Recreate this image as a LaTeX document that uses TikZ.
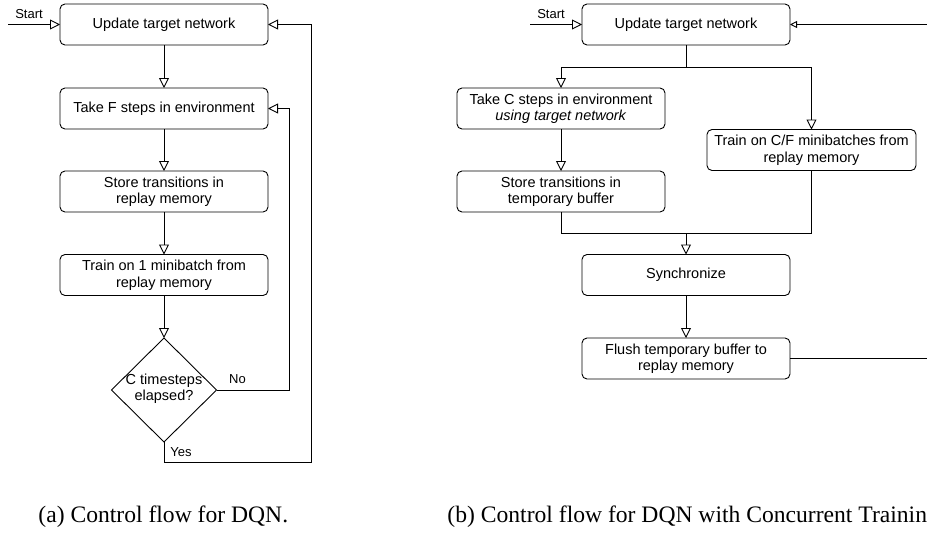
\documentclass[tikz,border=0pt]{standalone}
\usepackage{fontspec}
\setmainfont{Liberation Serif}
\setsansfont{Liberation Sans}
\usetikzlibrary{arrows.meta,shapes.geometric}
\begin{document}
\begin{tikzpicture}[x=1pt,y=-1pt,
  box/.style={draw, rounded corners=5pt, minimum width=208pt, minimum height=41pt, inner sep=0pt, outer sep=0pt, align=center, font=\sffamily\fontsize{14.5}{16.5}\selectfont},
  dia/.style={draw, diamond, minimum width=105pt, minimum height=104pt, inner sep=0pt, outer sep=0pt},
  txt/.style={align=center, inner sep=0pt, font=\sffamily\fontsize{14.5}{16.5}\selectfont},
  small/.style={inner sep=0pt, font=\sffamily\fontsize{13}{15}\selectfont},
  captxt/.style={inner sep=0pt, anchor=base west, font=\fontsize{23.6}{26}\selectfont},
  arr/.style={-{Triangle[open,length=10pt,width=10pt]}},
  sarr/.style={-{Triangle[open,length=7pt,width=7pt]}},
  line width=0.9pt]
\useasboundingbox (0,0) rectangle (927,536);
% ---------- left diagram ----------
\node[box] (u1) at (164,24.5) {Update target network};
\node[box] (f1) at (164,108.5) {Take F steps in environment};
\node[box] (s1) at (164,191.5) {Store transitions in\\replay memory};
\node[box] (t1) at (164,275) {Train on 1 minibatch from\\replay memory};
\node[dia] (d1) at (164,390) {};
\node[txt] (d1t) at (164,388.5) {C timesteps\\elapsed?};
\coordinate (st1) at (8,24.5);
\node[small] (stl1) at (29,14) {Start};
\draw[arr] (st1) -- (u1.west);
\draw[arr] (u1.south) -- (f1.north);
\draw[arr] (f1.south) -- (s1.north);
\draw[arr] (s1.south) -- (t1.north);
\draw[arr] (t1.south) -- (d1.north);
\coordinate (nc) at (289,390);
\draw[arr] (d1.east) -- (nc) |- (f1.east);
\node[small] (nol) at (237.5,379) {No};
\coordinate (yc) at (311,462);
\draw[arr] (d1.south) |- (yc) |- (u1.east);
\node[small] (yesl) at (181,452) {Yes};
% ---------- right diagram ----------
\node[box] (u2) at (686,24.5) {Update target network};
\node[box] (c2) at (561,108.5) {Take C steps in environment\\\textit{using target network}};
\node[box, minimum width=209pt] (tr2) at (811.5,150) {Train on C/F minibatches from\\replay memory};
\node[box] (s2) at (561,191.5) {Store transitions in\\temporary buffer};
\node[box] (sy2) at (686,275) {Synchronize};
\node[box] (fl2) at (686,358.5) {Flush temporary buffer to\\replay memory};
\coordinate (st2) at (530,24.5);
\node[small] (stl2) at (551,14) {Start};
\draw[arr] (st2) -- (u2.west);
\coordinate (j1) at (686,67);
\draw (u2.south) -- (j1);
\draw[arr] (j1) -| (c2.north);
\draw[arr] (j1) -| (tr2.north);
\draw[arr] (c2.south) -- (s2.north);
\coordinate (j2) at (686,233);
\draw (s2.south) |- (j2);
\draw (tr2.south) |- (j2);
\draw[arr] (j2) -- (sy2.north);
\draw[arr] (sy2.south) -- (fl2.north);
\coordinate (e1) at (927,358.5);
\draw (fl2.east) -- (e1);
\coordinate (e2) at (927,24.5);
\draw[sarr] (e2) -- (u2.east);
% ---------- captions ----------
\node[captxt] (capa) at (38,522) {(a) Control flow for DQN.};
\node[captxt] (capb) at (447,522) {(b) Control flow for DQN with Concurrent Trainin};
\end{tikzpicture}
\end{document}
